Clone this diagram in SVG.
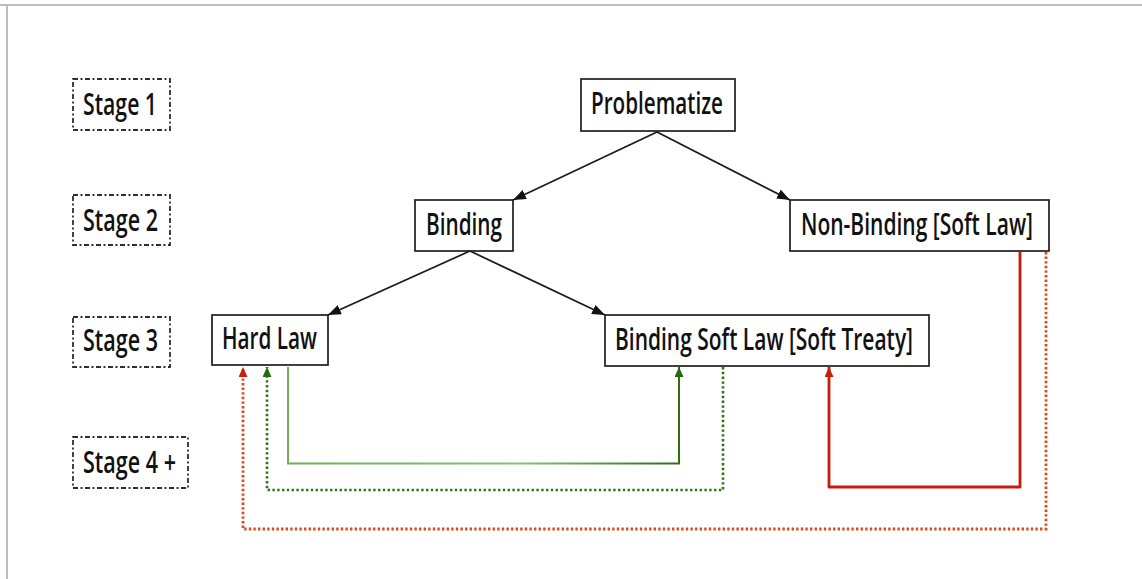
<svg xmlns="http://www.w3.org/2000/svg" width="1142" height="579" viewBox="0 0 1142 579">
  <style>
    .stage { fill: #ffffff; stroke: #2e2e2e; stroke-width: 1.8; stroke-dasharray: 5 2.5 2 2.5; }
    .node { fill: #ffffff; stroke: #1e1e1e; stroke-width: 1.7; }
    .label { font-family: "Open Sans", "Liberation Sans", sans-serif; font-size: 30px; font-weight: 600; fill: #111111; text-anchor: middle; }
    .tree { fill: none; stroke: #1a1a1a; stroke-width: 1.7; }
    .frame { stroke: #bdbdbd; stroke-width: 2; }
  </style>
  <defs>
    <marker id="arrowBlack" markerUnits="userSpaceOnUse" markerWidth="14" markerHeight="10" refX="13" refY="5" orient="auto">
      <path d="M0,0 L13,5 L0,10 Z" fill="#111111"/>
    </marker>
    <marker id="arrowGreen" markerUnits="userSpaceOnUse" markerWidth="10" markerHeight="9" refX="10" refY="4.5" orient="auto">
      <path d="M0,0 L10,4.5 L0,9 Z" fill="#1f6b0f"/>
    </marker>
    <marker id="arrowRed" markerUnits="userSpaceOnUse" markerWidth="10" markerHeight="9" refX="10" refY="4.5" orient="auto">
      <path d="M0,0 L10,4.5 L0,9 Z" fill="#c81e0a"/>
    </marker>
    <linearGradient id="greenFade" gradientUnits="userSpaceOnUse" x1="288" y1="0" x2="679" y2="0">
      <stop offset="0" stop-color="#74ad50"/>
      <stop offset="0.6" stop-color="#8cbf70"/>
      <stop offset="1" stop-color="#2f6e17"/>
    </linearGradient>
  </defs>

  <rect width="1142" height="579" fill="#ffffff"/>
  <line class="frame" x1="0" y1="5" x2="1142" y2="5"/>
  <line class="frame" x1="7" y1="5" x2="7" y2="579"/>

  <!-- stage labels -->
  <g id="stage1">
    <rect class="stage" x="73" y="79" width="97" height="51"/>
    <text class="label" x="120" y="114.5" textLength="74" lengthAdjust="spacingAndGlyphs">Stage 1</text>
  </g>
  <g id="stage2">
    <rect class="stage" x="73" y="195" width="97" height="50"/>
    <text class="label" x="120.5" y="230.5" textLength="75" lengthAdjust="spacingAndGlyphs">Stage 2</text>
  </g>
  <g id="stage3">
    <rect class="stage" x="73" y="317" width="97" height="50"/>
    <text class="label" x="120.5" y="350.5" textLength="75" lengthAdjust="spacingAndGlyphs">Stage 3</text>
  </g>
  <g id="stage4">
    <rect class="stage" x="73" y="437" width="115" height="51"/>
    <text class="label" x="129.5" y="472.5" textLength="93" lengthAdjust="spacingAndGlyphs">Stage 4 +</text>
  </g>

  <!-- nodes -->
  <g id="problematize">
    <rect class="node" x="581" y="79" width="154" height="52"/>
    <text class="label" x="657" y="114" textLength="132" lengthAdjust="spacingAndGlyphs">Problematize</text>
  </g>
  <g id="binding">
    <rect class="node" x="415" y="200" width="98" height="51"/>
    <text class="label" x="464" y="234.5" textLength="76" lengthAdjust="spacingAndGlyphs">Binding</text>
  </g>
  <g id="non-binding">
    <rect class="node" x="790" y="200" width="259" height="51"/>
    <text class="label" x="917" y="234.5" textLength="232" lengthAdjust="spacingAndGlyphs">Non-Binding [Soft Law]</text>
  </g>
  <g id="hard-law">
    <rect class="node" x="212" y="315" width="116" height="50"/>
    <text class="label" x="269.5" y="348.5" textLength="95" lengthAdjust="spacingAndGlyphs">Hard Law</text>
  </g>
  <g id="binding-soft-law">
    <rect class="node" x="605" y="315" width="324" height="51"/>
    <text class="label" x="764" y="350" textLength="298" lengthAdjust="spacingAndGlyphs">Binding Soft Law [Soft Treaty]</text>
  </g>

  <!-- connectors -->
  <g id="connectors">
    <path class="tree" d="M657,132 L513,200" marker-end="url(#arrowBlack)"/>
    <path class="tree" d="M657,132 L790,200" marker-end="url(#arrowBlack)"/>
    <path class="tree" d="M470,251 L328,315" marker-end="url(#arrowBlack)"/>
    <path class="tree" d="M470,251 L605,315" marker-end="url(#arrowBlack)"/>

    <!-- Hard Law to Binding Soft Law -->
    <path d="M288,367 V463.5 H679 V367" fill="none" stroke="url(#greenFade)" stroke-width="2" marker-end="url(#arrowGreen)"/>
    <!-- Binding Soft Law back to Hard Law -->
    <path d="M723,367 V490 H267 V367" fill="none" stroke="#2a7514" stroke-width="2.6" stroke-dasharray="2.4 2.4" marker-end="url(#arrowGreen)"/>
    <!-- Non-Binding to Binding Soft Law -->
    <path d="M1020,252 V487 H829 V367" fill="none" stroke="#c8190a" stroke-width="2.8" stroke-linejoin="round" marker-end="url(#arrowRed)"/>
    <!-- Non-Binding to Hard Law -->
    <path d="M1046,252 V529 H243 V367" fill="none" stroke="#dd4a1c" stroke-width="2.8" stroke-dasharray="2.4 2.2" marker-end="url(#arrowRed)"/>
  </g>
</svg>
